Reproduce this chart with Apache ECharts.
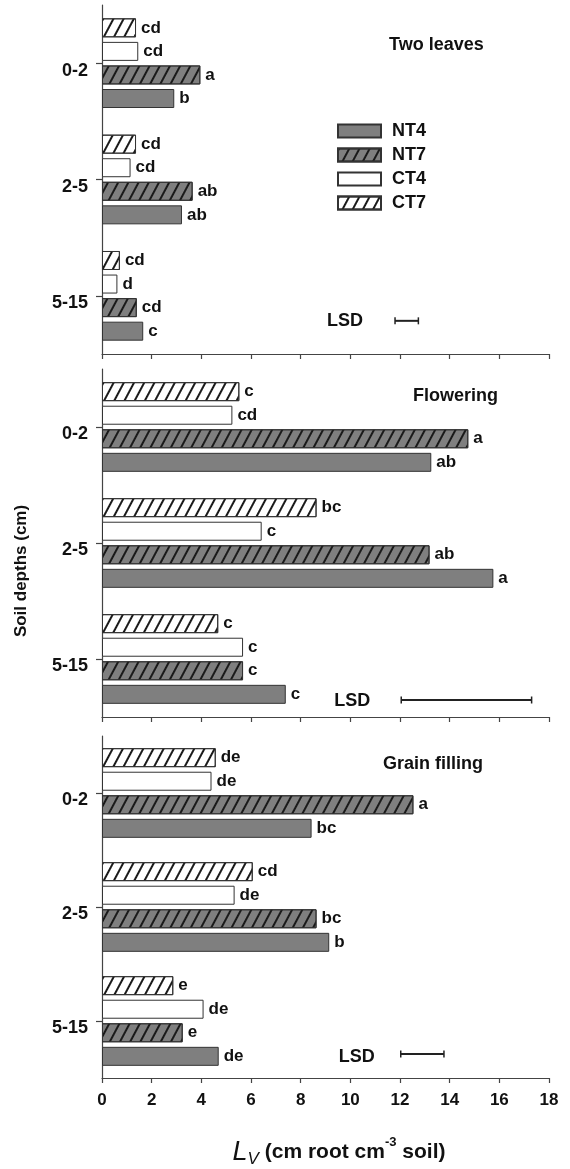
<!DOCTYPE html>
<html><head><meta charset="utf-8">
<script src="https://cdn.jsdelivr.net/npm/echarts@6/dist/echarts.min.js"></script>
<style>html,body{margin:0;padding:0;background:#fff}#c{width:570px;height:1169px}</style>
</head><body><div id="c"></div>
<script>
// ---------------- data ----------------
const depths = ['0-2', '2-5', '5-15'];
const treatments = ['NT4', 'NT7', 'CT4', 'CT7'];
const stages = ['Two leaves', 'Flowering', 'Grain filling'];

// Two leaves (values per depth 0-2, 2-5, 5-15)
const twoLeavesNT4 = [2.91, 3.22, 1.66];
const twoLeavesNT7 = [3.96, 3.65, 1.40];
const twoLeavesCT4 = [1.46, 1.15, 0.62];
const twoLeavesCT7 = [1.37, 1.37, 0.72];
const twoLeavesLetNT4 = ['b', 'ab', 'c'];
const twoLeavesLetNT7 = ['a', 'ab', 'cd'];
const twoLeavesLetCT4 = ['cd', 'cd', 'd'];
const twoLeavesLetCT7 = ['cd', 'cd', 'cd'];

// Flowering
const floweringNT4 = [13.26, 15.76, 7.40];
const floweringNT7 = [14.75, 13.19, 5.68];
const floweringCT4 = [5.25, 6.43, 5.68];
const floweringCT7 = [5.53, 8.64, 4.68];
const floweringLetNT4 = ['ab', 'a', 'c'];
const floweringLetNT7 = ['a', 'ab', 'c'];
const floweringLetCT4 = ['cd', 'c', 'c'];
const floweringLetCT7 = ['c', 'bc', 'c'];

// Grain filling
const grainNT4 = [8.44, 9.15, 4.70];
const grainNT7 = [12.54, 8.64, 3.25];
const grainCT4 = [4.41, 5.34, 4.09];
const grainCT7 = [4.58, 6.07, 2.87];
const grainLetNT4 = ['bc', 'b', 'de'];
const grainLetNT7 = ['a', 'bc', 'e'];
const grainLetCT4 = ['de', 'de', 'de'];
const grainLetCT7 = ['de', 'cd', 'e'];

// LSD bars (x extent in axis units) per stage
const lsdFrom = [11.8, 12.05, 12.03];
const lsdTo = [12.74, 17.3, 13.77];

// x axis
const xMin = 0, xMax = 18, xStep = 2;

// ---------------- layout / style ----------------
const FONT = '"Liberation Sans", Arial, Helvetica, sans-serif';
const INK = '#111';
const AX = '#444';
const gridTops = [5, 369, 736];
const gridH = [349, 348, 349];
const lsdDy = [25, 41, 33];      // px below the 5-15 centre
const lsdTextGap = [32, 31, 26];
const lsdTextDy = [0, 1, 3];
const titlePos = [[389, 35], [413, 386], [383, 754]];

const valuesByStage = [
  [twoLeavesNT4, twoLeavesNT7, twoLeavesCT4, twoLeavesCT7],
  [floweringNT4, floweringNT7, floweringCT4, floweringCT7],
  [grainNT4, grainNT7, grainCT4, grainCT7]
];
const lettersByStage = [
  [twoLeavesLetNT4, twoLeavesLetNT7, twoLeavesLetCT4, twoLeavesLetCT7],
  [floweringLetNT4, floweringLetNT7, floweringLetCT4, floweringLetCT7],
  [grainLetNT4, grainLetNT7, grainLetCT4, grainLetCT7]
];

const hatch = {
  symbol: 'rect', symbolSize: 1,
  dashArrayX: [1, 0], dashArrayY: [1.2, 6.4],
  rotation: -Math.PI * 62 / 180,
  color: '#1a1a1a'
};
const tStyles = {
  NT4: { color: '#7f7f7f', borderColor: '#333', borderWidth: 1 },
  NT7: { color: '#7f7f7f', borderColor: '#333', borderWidth: 1, decal: hatch },
  CT4: { color: '#ffffff', borderColor: '#333', borderWidth: 1 },
  CT7: { color: '#ffffff', borderColor: '#333', borderWidth: 1, decal: hatch }
};

const catsRev = depths.slice().reverse(); // bottom-to-top order for the axis
const seriesOrder = [3, 2, 1, 0];        // CT7 on top ... NT4 at bottom of each group

const grid = [], xAxis = [], yAxis = [], series = [], title = [];
for (let s = 0; s < 3; s++) {
  grid.push({ left: 102, right: 21, top: gridTops[s], height: gridH[s] });
  xAxis.push({
    type: 'value', gridIndex: s, min: xMin, max: xMax, interval: xStep,
    axisLine: { show: true, lineStyle: { color: AX, width: 1.2 } },
    axisTick: { show: true, length: 5, lineStyle: { color: AX, width: 1.2 } },
    splitLine: { show: false },
    axisLabel: { show: s === 2, color: INK, fontSize: 17, fontWeight: 'bold', fontFamily: FONT, margin: 14 },
    name: s === 2 ? '{l|L}{v|V}{t| (cm root cm}{s|-3}{t| soil)}' : '',
    nameLocation: 'middle', nameGap: 58,
    nameTextStyle: {
      padding: [0, 0, 0, 27],
      rich: {
        l: { fontSize: 27, fontStyle: 'italic', fontFamily: FONT, color: INK, lineHeight: 32 },
        v: { fontSize: 17, fontStyle: 'italic', fontFamily: FONT, color: INK, lineHeight: 17, verticalAlign: 'bottom' },
        t: { fontSize: 21, fontWeight: 'bold', fontFamily: FONT, color: INK, lineHeight: 32 },
        s: { fontSize: 13, fontWeight: 'bold', fontFamily: FONT, color: INK, lineHeight: 17, verticalAlign: 'top' }
      }
    }
  });
  yAxis.push({
    type: 'category', gridIndex: s, data: catsRev,
    axisLine: { show: true, lineStyle: { color: AX, width: 1.2 } },
    axisTick: { show: true, alignWithLabel: true, length: 6, lineStyle: { color: AX, width: 1.2 } },
    axisLabel: { color: INK, fontSize: 18, fontWeight: 'bold', fontFamily: FONT, margin: 14, verticalAlign: 'top', lineHeight: 15 },
    name: s === 1 ? 'Soil depths (cm)' : '',
    nameLocation: 'middle', nameGap: 72,
    nameTextStyle: { fontSize: 17, fontWeight: 'bold', fontFamily: FONT, color: INK, padding: [0, 56, 0, 0] }
  });
  title.push({
    text: stages[s], left: titlePos[s][0], top: titlePos[s][1], padding: 0,
    textStyle: { fontSize: 18, fontWeight: 'bold', fontFamily: FONT, color: INK, lineHeight: 20 }
  });
  seriesOrder.forEach(ti => {
    const t = treatments[ti];
    const vals = valuesByStage[s][ti].slice().reverse();
    const lets = lettersByStage[s][ti].slice().reverse();
    series.push({
      type: 'bar', name: t, xAxisIndex: s, yAxisIndex: s,
      barWidth: 19, barGap: '24%',
      itemStyle: tStyles[t],
      data: vals,
      label: {
        show: true, position: 'right', distance: 5,
        color: INK, fontSize: 17, fontWeight: 'bold', fontFamily: FONT,
        formatter: p => lets[p.dataIndex]
      },
      emphasis: { disabled: true }
    });
  });
  series.push({
    type: 'custom', xAxisIndex: s, yAxisIndex: s, silent: true,
    data: [[lsdFrom[s], lsdTo[s], 0]],
    encode: { x: [0, 1], y: 2 },
    renderItem: (params, api) => {
      const a = api.coord([api.value(0), api.value(2)]);
      const b = api.coord([api.value(1), api.value(2)]);
      const y = a[1] + lsdDy[s];
      const st = { stroke: '#222', lineWidth: 2 };
      return {
        type: 'group', children: [
          { type: 'line', shape: { x1: a[0], y1: y, x2: b[0], y2: y }, style: st },
          { type: 'line', shape: { x1: a[0], y1: y - 3.5, x2: a[0], y2: y + 3.5 }, style: { stroke: '#222', lineWidth: 1.5 } },
          { type: 'line', shape: { x1: b[0], y1: y - 3.5, x2: b[0], y2: y + 3.5 }, style: { stroke: '#222', lineWidth: 1.5 } },
          { type: 'text', style: { text: 'LSD', x: a[0] - lsdTextGap[s], y: y + lsdTextDy[s], align: 'right', verticalAlign: 'middle',
            fontSize: 18, fontWeight: 'bold', fontFamily: FONT, fill: INK } }
        ]
      };
    }
  });
}

const chart = echarts.init(document.getElementById('c'), null, { renderer: 'canvas' });
chart.setOption({
  animation: false,
  backgroundColor: '#fff',
  title, grid, xAxis, yAxis, series,
  legend: {
    data: treatments, orient: 'vertical', left: 337, top: 122, padding: 0, icon: 'rect',
    itemWidth: 43, itemHeight: 13, itemGap: 6, selectedMode: false,
    textStyle: { fontSize: 18, fontWeight: 'bold', fontFamily: FONT, color: INK, lineHeight: 18, padding: [0, 0, 0, 6] }
  }
});
</script>
</body></html>
